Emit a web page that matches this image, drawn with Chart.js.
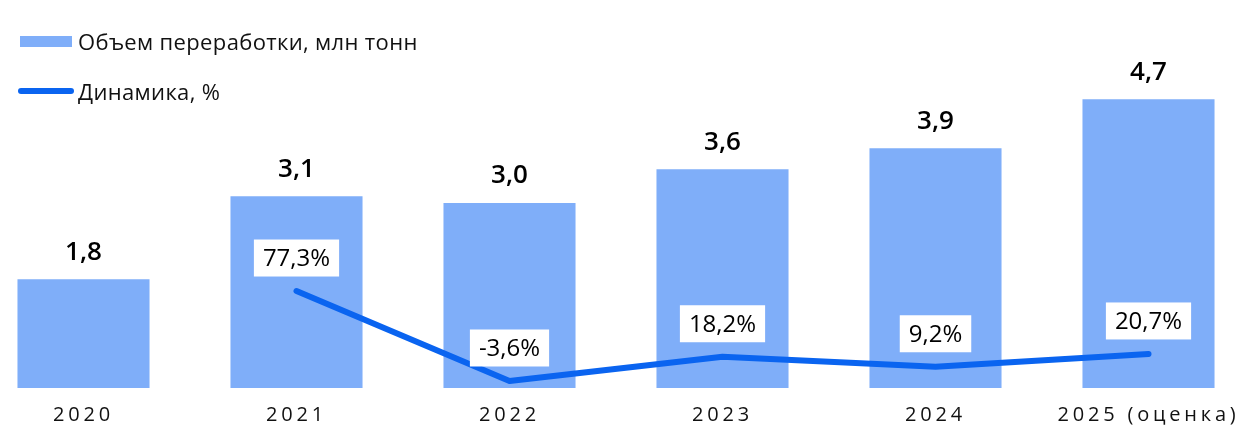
<!DOCTYPE html>
<html>
<head>
<meta charset="utf-8">
<script src="https://cdn.jsdelivr.net/npm/chart.js@4"></script>
<style>
  html, body { margin: 0; padding: 0; background: #fff; overflow: hidden; }
  body { width: 1258px; height: 443px; position: relative; font-family: "Open Sans", sans-serif; }
  #wrap { position: absolute; left: -23px; top: 0; width: 1278px; height: 443px; }
  .legend { position: absolute; left: 18px; font-size: 22px; letter-spacing: 0.35px; color: #111; display: flex; align-items: center; line-height: 26px; }
  .legend .box { width: 52px; height: 11px; background: #7faef9; margin-right: 6px; margin-left: 2px; }
  .legend .ln { width: 56px; height: 6px; border-radius: 3px; background: #0a64f0; margin-right: 4px; }
</style>
</head>
<body>
<div id="wrap"><canvas id="chart"></canvas></div>
<div class="legend" style="top:28px"><span class="box"></span>Объем переработки, млн тонн</div>
<div class="legend" style="top:78px"><span class="ln"></span>Динамика, %</div>
<script>
const years = ["2020", "2021", "2022", "2023", "2024", "2025 (оценка)"];
const volume = [1.77, 3.12, 3.01, 3.56, 3.9, 4.7];
const volumeLabels = ["1,8", "3,1", "3,0", "3,6", "3,9", "4,7"];
const growth = [null, 77.3, -3.6, 18.2, 9.2, 20.7];
const growthLabels = ["", "77,3%", "-3,6%", "18,2%", "9,2%", "20,7%"];

// spaced-out x ticks, then normal text for the labels
const spacing = {
  id: "spacing",
  beforeDraw(chart) { chart.ctx.letterSpacing = "3.8px"; },
  beforeDatasetsDraw(chart) { chart.ctx.letterSpacing = "0px"; },
};

const labels = {
  id: "labels",
  afterDatasetsDraw(chart) {
    const ctx = chart.ctx;
    ctx.save();
    ctx.textAlign = "center";
    ctx.textBaseline = "middle";
    ctx.fillStyle = "#000";
    ctx.font = "600 26px 'Open Sans'";
    chart.getDatasetMeta(1).data.forEach((bar, i) => {
      ctx.fillText(volumeLabels[i], bar.x, bar.y - 27);
    });
    ctx.font = "24px 'Open Sans'";
    chart.getDatasetMeta(0).data.forEach((pt, i) => {
      if (growth[i] === null) return;
      const text = growthLabels[i];
      const w = ctx.measureText(text).width + 18;
      const cy = pt.y - 33;
      ctx.fillStyle = "#fff";
      ctx.fillRect(pt.x - w / 2, cy - 18.5, w, 37);
      ctx.fillStyle = "#000";
      ctx.fillText(text, pt.x, cy + 1);
    });
    ctx.restore();
  },
};

new Chart(document.getElementById("chart"), {
  data: {
    labels: years,
    datasets: [
      {
        type: "line",
        label: "Динамика, %",
        data: growth,
        yAxisID: "y2",
        borderColor: "#0a64f0",
        borderWidth: 6,
        borderCapStyle: "round",
        borderJoinStyle: "round",
        pointRadius: 0,
        tension: 0,
        order: 0,
      },
      {
        type: "bar",
        label: "Объем переработки, млн тонн",
        data: volume,
        yAxisID: "y",
        backgroundColor: "#7faef9",
        categoryPercentage: 1,
        barPercentage: 0.62,
        order: 1,
      },
    ],
  },
  options: {
    responsive: true,
    maintainAspectRatio: false,
    animation: false,
    layout: { padding: { top: 50, left: 0, right: 0, bottom: 0 } },
    plugins: { legend: { display: false }, tooltip: { enabled: false } },
    scales: {
      x: {
        grid: { display: false, drawTicks: false },
        border: { display: false },
        ticks: { color: "#111", font: { family: "Open Sans", size: 20 }, padding: 15 },
        afterFit(scale) { scale.height = 55; },
      },
      y: { min: 0, max: 5.5, display: false },
      y2: { min: -9.9, max: 294, display: false },
    },
  },
  plugins: [spacing, labels],
});
</script>
</body>
</html>
